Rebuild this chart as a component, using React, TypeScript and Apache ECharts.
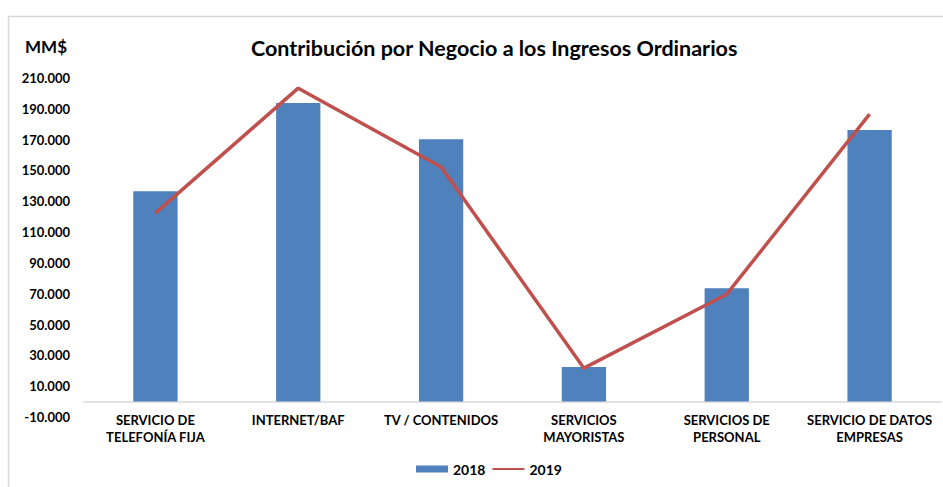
import React, { useEffect, useRef } from "react";
import * as echarts from "echarts";

const categories = [
  "SERVICIO DE\nTELEFONÍA FIJA",
  "INTERNET/BAF",
  "TV / CONTENIDOS",
  "SERVICIOS\nMAYORISTAS",
  "SERVICIOS DE\nPERSONAL",
  "SERVICIO DE DATOS\nEMPRESAS",
];
const values2018 = [136500, 193800, 170300, 22400, 73600, 176300];
const values2019 = [122300, 203400, 152200, 21700, 69700, 186600];
const seriesNames = ["2018", "2019"];
const titleText = "Contribución por Negocio a los Ingresos Ordinarios";
const unitText = "MM$";

const FONT = "Lato, 'Open Sans', sans-serif";

function fmt(v: number): string {
  const s = Math.abs(Math.round(v)).toString();
  const parts: string[] = [];
  for (let i = s.length; i > 0; i -= 3) parts.unshift(s.slice(Math.max(0, i - 3), i));
  return (v < 0 ? "-" : "") + parts.join(".");
}

export default function App() {
  const ref = useRef<HTMLDivElement>(null);
  useEffect(() => {
    document.body.style.margin = "0";
    const chart = echarts.init(ref.current!, null, { renderer: "svg" });
    chart.setOption({
      animation: false,
      backgroundColor: "#ffffff",
      title: {
        text: titleText,
        left: 246,
        top: 32,
        textStyle: { fontFamily: FONT, fontSize: 21.5, fontWeight: "bold", color: "#000" },
      },
      graphic: [
        {
          type: "rect",
          shape: { x: 8.5, y: 16.5, width: 1000, height: 600 },
          style: { fill: "none", stroke: "#d9d9d9", lineWidth: 1.5 },
          silent: true,
        },
        {
          type: "text",
          left: 25,
          top: 38,
          style: { text: unitText, fontFamily: FONT, fontSize: 17, fontWeight: "bold", fill: "#000" },
        },
      ],
      legend: {
        left: 411,
        top: 457,
        itemWidth: 32,
        itemHeight: 7,
        itemGap: 6,
        textStyle: { fontFamily: FONT, fontSize: 14, fontWeight: "bold", color: "#000" },
        data: [
          { name: seriesNames[0], icon: "rect" },
          { name: seriesNames[1], itemStyle: { opacity: 0 } },
        ],
      },
      grid: { left: 84, right: 2, top: 78, bottom: 70, containLabel: false },
      xAxis: {
        type: "category",
        data: categories,
        axisLine: { show: true, onZero: true, lineStyle: { color: "#d9d9d9", width: 1.5 } },
        axisTick: { show: false },
        axisLabel: {
          interval: 0,
          margin: -6,
          fontFamily: FONT,
          fontSize: 13,
          fontWeight: "bold",
          color: "#000",
          lineHeight: 17,
        },
      },
      yAxis: {
        type: "value",
        min: -10000,
        max: 210000,
        interval: 10000,
        axisLine: { show: false },
        axisTick: { show: false },
        splitLine: { show: false },
        axisLabel: {
          margin: 14,
          fontFamily: FONT,
          fontSize: 13,
          fontWeight: "bold",
          color: "#000",
          formatter: (v: number) => (Math.round(v / 10000) % 2 !== 0 ? fmt(v) : ""),
        },
      },
      series: [
        {
          name: seriesNames[0],
          type: "bar",
          data: values2018,
          barWidth: "31%",
          itemStyle: { color: "#4F81BD" },
        },
        {
          name: seriesNames[1],
          type: "line",
          data: values2019,
          symbol: "none",
          lineStyle: { color: "#C0504D", width: 3.5 },
          itemStyle: { color: "#C0504D" },
        },
      ],
    });
    return () => chart.dispose();
  }, []);
  return <div ref={ref} style={{ width: 943, height: 487 }} />;
}
